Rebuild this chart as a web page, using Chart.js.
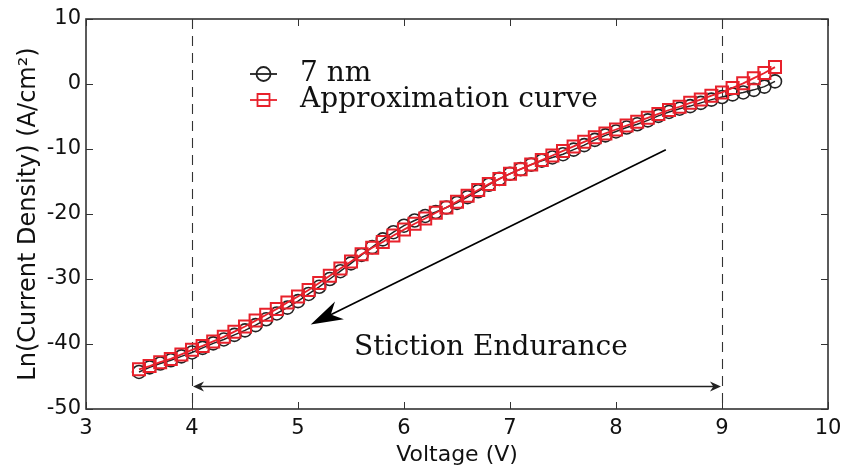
<!DOCTYPE html>
<html lang="en">
  <head>
    <meta charset="UTF-8">
    <script src="https://cdn.jsdelivr.net/npm/chart.js"></script>
    <title>Ln(J) vs Voltage</title>
    <style>
      html, body{margin: 0; padding: 0; background: #fff;}
      #wrap{width: 845px; height: 468px;}
    </style>
  </head>
  <body>
    <div id="wrap">
      <canvas id="myChart" width="845" height="468"></canvas>
    </div>
  <script>
    // voltage sweep, 0.1 V steps
    const voltage = [3.5,3.6,3.7,3.8,3.9,4.0,4.1,4.2,4.3,4.4,4.5,4.6,4.7,4.8,4.9,5.0,5.1,5.2,5.3,5.4,
      5.5,5.6,5.7,5.8,5.9,6.0,6.1,6.2,6.3,6.4,6.5,6.6,6.7,6.8,6.9,7.0,7.1,7.2,7.3,7.4,
      7.5,7.6,7.7,7.8,7.9,8.0,8.1,8.2,8.3,8.4,8.5,8.6,8.7,8.8,8.9,9.0,9.1,9.2,9.3,9.4,9.5];
    // measured ln(J), 7 nm
    const measured7nm = [-44.3,-43.6,-43.0,-42.5,-41.9,-41.3,-40.6,-39.9,-39.3,-38.6,
      -37.9,-37.1,-36.2,-35.3,-34.4,-33.4,-32.3,-31.2,-30.0,-28.8,
      -27.6,-26.3,-25.1,-23.9,-22.8,-21.8,-21.0,-20.3,-19.7,-19.0,
      -18.3,-17.4,-16.5,-15.5,-14.6,-13.8,-13.1,-12.4,-11.8,-11.3,
      -10.8,-10.1,-9.4,-8.6,-7.9,-7.3,-6.7,-6.2,-5.6,-4.9,
      -4.3,-3.8,-3.4,-2.9,-2.4,-2.0,-1.6,-1.3,-0.9,-0.4,0.4];
    // fitted curve
    const approx = [-43.9,-43.4,-42.8,-42.3,-41.6,-40.9,-40.3,-39.6,-38.9,-38.1,
      -37.3,-36.4,-35.5,-34.6,-33.6,-32.7,-31.7,-30.6,-29.5,-28.4,
      -27.3,-26.2,-25.2,-24.3,-23.3,-22.4,-21.5,-20.7,-19.8,-19.0,
      -18.1,-17.2,-16.3,-15.4,-14.6,-13.8,-13.1,-12.4,-11.7,-11.0,
      -10.3,-9.6,-8.9,-8.2,-7.6,-7.0,-6.4,-5.8,-5.2,-4.6,
      -4.0,-3.5,-2.9,-2.4,-1.8,-1.3,-0.6,0.1,0.9,1.7,2.6];
    const xTicks = [3,4,5,6,7,8,9,10];
    const yTicks = [-50,-40,-30,-20,-10,0,10];
    const windowBounds = [4, 9];

    const black = '#222222';
    const red = '#e8212b';
    const sans = "'DejaVu Sans', sans-serif";
    const serif = "'DejaVu Serif', serif";

    Chart.defaults.font.family = sans;
    Chart.defaults.font.size = 21;
    Chart.defaults.color = '#111';

    function toPoints(ys){
      return voltage.map((v, i) => ({x: v, y: ys[i]}));
    }

    function arrowHead(ctx, x1, y1, x2, y2, len, half){
      const a = Math.atan2(y2 - y1, x2 - x1);
      ctx.beginPath();
      ctx.moveTo(x2, y2);
      ctx.lineTo(x2 - len*Math.cos(a) + half*Math.sin(a), y2 - len*Math.sin(a) - half*Math.cos(a));
      ctx.lineTo(x2 - len*0.7*Math.cos(a), y2 - len*0.7*Math.sin(a));
      ctx.lineTo(x2 - len*Math.cos(a) - half*Math.sin(a), y2 - len*Math.sin(a) + half*Math.cos(a));
      ctx.closePath();
      ctx.fill();
    }

    // frame, inward ticks, dashed bounds, arrows, labels, legend
    const decor = {
      id: 'decor',
      beforeDatasetsDraw(chart){
        const {ctx, chartArea: ca, scales: {x, y}} = chart;
        ctx.save();
        ctx.strokeStyle = '#333';
        ctx.lineWidth = 1.1;
        ctx.setLineDash([10, 7]);
        windowBounds.forEach(v => {
          const px = Math.round(x.getPixelForValue(v)) + 0.5;
          ctx.beginPath();
          ctx.moveTo(px, ca.top);
          ctx.lineTo(px, ca.bottom);
          ctx.stroke();
        });
        ctx.restore();
      },
      afterDatasetsDraw(chart){
        const {ctx, chartArea: ca, scales: {x, y}} = chart;
        ctx.save();
        // frame
        ctx.strokeStyle = '#333';
        ctx.lineWidth = 1.6;
        ctx.strokeRect(ca.left, ca.top, ca.right - ca.left, ca.bottom - ca.top);
        // ticks pointing inward
        ctx.lineWidth = 1;
        const t = 7;
        xTicks.forEach(v => {
          const px = Math.round(x.getPixelForValue(v)) + 0.5;
          ctx.beginPath();
          ctx.moveTo(px, ca.bottom); ctx.lineTo(px, ca.bottom - t);
          ctx.moveTo(px, ca.top); ctx.lineTo(px, ca.top + t);
          ctx.stroke();
        });
        yTicks.forEach(v => {
          const py = Math.round(y.getPixelForValue(v)) + 0.5;
          ctx.beginPath();
          ctx.moveTo(ca.left, py); ctx.lineTo(ca.left + t, py);
          ctx.moveTo(ca.right, py); ctx.lineTo(ca.right - t, py);
          ctx.stroke();
        });

        // big trend arrow
        ctx.strokeStyle = '#000';
        ctx.fillStyle = '#000';
        ctx.lineWidth = 1.7;
        const ax1 = x.getPixelForValue(8.47), ay1 = y.getPixelForValue(-10.1);
        const ax2 = x.getPixelForValue(5.12), ay2 = y.getPixelForValue(-37.0);
        const ang = Math.atan2(ay2 - ay1, ax2 - ax1);
        ctx.beginPath();
        ctx.moveTo(ax1, ay1);
        ctx.lineTo(ax2 - 20*Math.cos(ang), ay2 - 20*Math.sin(ang));
        ctx.stroke();
        arrowHead(ctx, ax1, ay1, ax2, ay2, 32, 10);

        // double arrow between the bounds
        const dy = Math.round(y.getPixelForValue(-46.5)) + 0.5;
        const dx1 = x.getPixelForValue(windowBounds[0]) + 1;
        const dx2 = x.getPixelForValue(windowBounds[1]) - 1;
        ctx.strokeStyle = '#222';
        ctx.fillStyle = '#222';
        ctx.lineWidth = 1.4;
        ctx.beginPath();
        ctx.moveTo(dx1 + 4, dy); ctx.lineTo(dx2 - 4, dy);
        ctx.stroke();
        arrowHead(ctx, dx2, dy, dx1, dy, 11, 5);
        arrowHead(ctx, dx1, dy, dx2, dy, 11, 5);

        ctx.fillStyle = '#111';
        ctx.font = '28px ' + serif;
        ctx.textAlign = 'center';
        ctx.textBaseline = 'middle';
        ctx.fillText('Stiction Endurance', x.getPixelForValue(6.82), y.getPixelForValue(-40.6));

        // legend
        const lx = 250, lw = 27, tx = 300;
        const rows = [
          {label: '7 nm', color: black, style: 'circle', y: 74},
          {label: 'Approximation curve', color: red, style: 'rect', y: 100}
        ];
        rows.forEach(r => {
          ctx.strokeStyle = r.color;
          ctx.lineWidth = 1.8;
          ctx.beginPath();
          ctx.moveTo(lx, r.y); ctx.lineTo(lx + lw, r.y);
          ctx.stroke();
          ctx.beginPath();
          if (r.style === 'circle') {
            ctx.arc(lx + lw/2, r.y, 7, 0, Math.PI*2);
          } else {
            ctx.rect(lx + lw/2 - 6, r.y - 6, 12, 12);
          }
          ctx.stroke();
          ctx.fillStyle = '#111';
          ctx.textAlign = 'left';
          ctx.font = '28px ' + serif;
          ctx.fillText(r.label, tx, r.y);
        });
        ctx.restore();
      }
    };

    const ctx = document.getElementById('myChart');
    new Chart(ctx, {
      type: 'scatter',
      data: {
        datasets: [{
          label: 'Approximation curve',
          data: toPoints(approx),
          showLine: true,
          borderColor: red,
          borderWidth: 1.8,
          pointStyle: 'rect',
          pointRadius: 8.5,
          pointBorderWidth: 2,
          pointBorderColor: red,
          pointBackgroundColor: 'rgba(0,0,0,0)',
          order: 0
        }, {
          label: '7 nm',
          data: toPoints(measured7nm),
          showLine: true,
          borderColor: black,
          borderWidth: 1.5,
          pointStyle: 'circle',
          pointRadius: 6.5,
          pointBorderWidth: 1.6,
          pointBorderColor: black,
          pointBackgroundColor: 'rgba(0,0,0,0)',
          order: 1
        }]
      },
      options: {
        responsive: false,
        animation: false,
        layout: {padding: {top: 19, right: 17, left: 0, bottom: 0}},
        plugins: {legend: {display: false}, tooltip: {enabled: false}},
        scales: {
          x: {
            type: 'linear', min: 3, max: 10,
            afterBuildTicks: s => { s.ticks = xTicks.map(v => ({value: v})); },
            afterFit: s => { s.height = 59; s.paddingLeft = 0; s.paddingRight = 0; },
            grid: {display: false, drawTicks: false},
            border: {display: false},
            ticks: {color: '#111', font: {family: sans, size: 21}, padding: 7},
            title: {display: true, text: 'Voltage (V)', color: '#111',
              font: {family: sans, size: 22}, padding: {top: 0, bottom: 0}}
          },
          y: {
            type: 'linear', min: -50, max: 10,
            afterBuildTicks: s => { s.ticks = yTicks.map(v => ({value: v})); },
            afterFit: s => { s.width = 86; s.paddingTop = 0; s.paddingBottom = 0; },
            grid: {display: false, drawTicks: false},
            border: {display: false},
            ticks: {color: '#111', font: {family: sans, size: 21}, padding: 5},
            title: {display: true, text: 'Ln(Current Density) (A/cm²)', color: '#111',
              font: {family: sans, size: 24}, padding: {top: 14, bottom: 0}}
          }
        }
      },
      plugins: [decor]
    });
  </script>
  </body>
</html>
